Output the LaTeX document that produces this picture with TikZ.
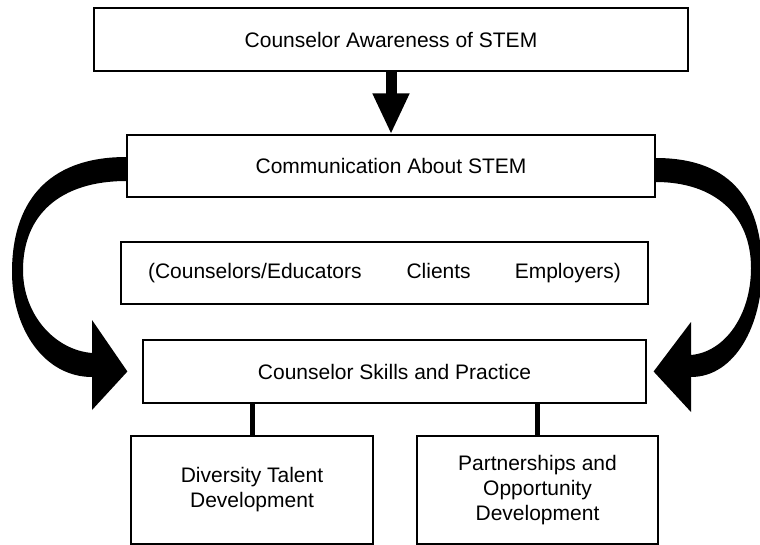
\documentclass[tikz,border=0pt]{standalone}
\usepackage{fontspec}
\setmainfont{Liberation Sans}
\usetikzlibrary{arrows.meta,calc}

\begin{document}
\begin{tikzpicture}[x=1pt,y=-1pt,
  box/.style={draw,line width=1.2pt,inner sep=0pt,align=center,
    font=\fontsize{21}{25}\selectfont},
  link/.style={line width=5pt}]

\useasboundingbox (0,0) rectangle (760,545);

% Awareness
\node[box,minimum width=594pt,minimum height=63pt] (aware) at (391,39.5)
  {Counselor Awareness of STEM};

% Communication
\node[box,minimum width=528pt,minimum height=62pt] (comm) at (391,166)
  {Communication About STEM};

\draw[line width=11pt,-{Triangle[width=34pt,length=41pt]}] (aware) -- (comm);

% Groups
\node[box,minimum width=527pt,minimum height=62pt] (groups) at (384.5,273)
  {(Counselors/Educators\hspace{45pt}Clients\hspace{44pt}Employers)};

% Skills
\node[box,minimum width=503pt,minimum height=63pt] (skills) at (394.5,371.5)
  {Counselor Skills and Practice};

% Left loop
\fill ($(comm.west)+(0,-9)$)
  .. controls (45,157) and (12,205) .. (12,272)
  .. controls (12,330) and (45,377) .. (92,377)
  -- (92,410) -- ($(skills.west)+(-15,0)$) -- (92,320) -- (92,353)
  .. controls (55,350) and (23,315) .. (23,270)
  .. controls (23,215) and (60,181) .. ($(comm.west)+(0,15)$)
  -- cycle;

% Right loop
\fill ($(comm.east)+(0,-8)$)
  .. controls (735,158) and (762,205) .. (762,270)
  .. controls (762,325) and (735,377) .. (691,377)
  -- (691,412) -- ($(skills.east)+(7,0)$) -- (691,322) -- (691,355)
  .. controls (725,352) and (751,315) .. (751,268)
  .. controls (751,215) and (715,182) .. ($(comm.east)+(0,16)$)
  -- cycle;

% Outcomes
\node[box,minimum width=242pt,minimum height=108pt] (talent) at (252,490)
  {Diversity Talent\\Development};
\node[box,minimum width=241pt,minimum height=108pt] (partner) at (537.5,490)
  {Partnerships and\\Opportunity\\Development};

\draw[link] (talent) -- (talent |- skills.south);
\draw[link] (partner) -- (partner |- skills.south);

\end{tikzpicture}
\end{document}
